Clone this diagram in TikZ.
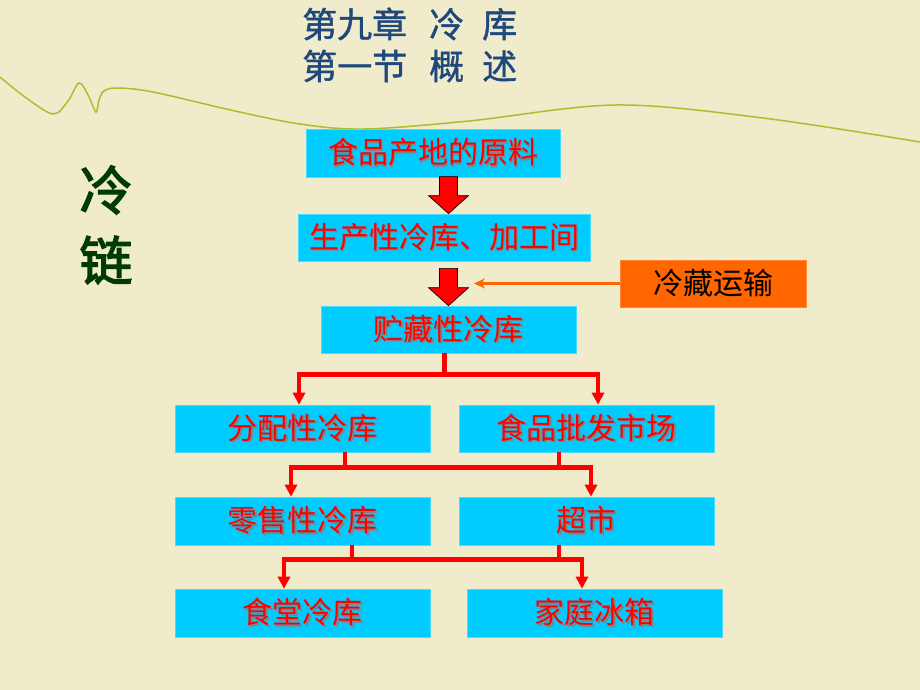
\documentclass[tikz,border=0pt]{standalone}
\usepackage{fontspec}
\newfontfamily\cjk{Noto Sans CJK SC}
\newfontfamily\cjkt[FakeBold=1.2]{Noto Sans CJK SC}
\newfontfamily\cjkb[FakeBold=2.5]{Noto Sans CJK SC}
\usetikzlibrary{arrows.meta,calc}
\definecolor{bg}{RGB}{240,235,203}
\definecolor{boxcyan}{RGB}{0,204,255}
\definecolor{orng}{RGB}{255,102,0}
\definecolor{titleblue}{RGB}{31,73,125}
\definecolor{dgreen}{RGB}{0,60,0}
\definecolor{wave}{RGB}{168,192,45}
\definecolor{shadowgray}{RGB}{130,130,130}
\newcommand{\shtext}[1]{\makebox[0pt]{\raisebox{-1.5pt}{\hspace{3pt}\textcolor{shadowgray}{#1}}}\makebox[0pt]{\textcolor{red}{#1}}}
\tikzset{
  cbox/.style={fill=boxcyan, draw=boxcyan!70!white, line width=0.6pt, inner sep=0pt, font=\cjk\fontsize{30}{30}\selectfont},
  obox/.style={fill=orng, draw=orng!80!white, line width=0.6pt, inner sep=0pt, minimum width=186pt, minimum height=47pt, font=\cjk\fontsize{30}{30}\selectfont, text=black},
  conn/.style={draw=red, line width=4.5pt},
  conna/.style={conn, -{Triangle[width=12pt,length=12pt]}},
  blockarr/.style={fill=red, draw=black, line width=0.6pt, line join=miter},
}
\begin{document}
\begin{tikzpicture}[x=1pt,y=-1pt]
\fill[bg] (0,0) rectangle (920,690);
\useasboundingbox (0,0) rectangle (920,690);
% wave
\draw[wave, line width=1.5pt] plot[smooth, tension=0.55] coordinates {(0,77) (25,97) (53,114) (68,101) (79,83) (88,95) (96,112) (99,100) (104,91) (117,88) (153,92) (235,111) (300,124) (364,129) (469,121) (616,105) (763,118) (920,142)};
% title
\node[anchor=west, inner sep=0pt, text=titleblue, font=\cjkt\fontsize{35}{35}\selectfont] (t1) at (302,24) {第九章\hspace{22pt}冷\hspace{18pt}库};
\node[anchor=west, inner sep=0pt, text=titleblue, font=\cjkt\fontsize{35}{35}\selectfont] (t2) at (302,66) {第一节\hspace{22pt}概\hspace{18pt}述};
% left label
\node[inner sep=0pt, text=dgreen, font=\cjkb\fontsize{53}{53}\selectfont] (l1) at (106,190) {冷};
\node[inner sep=0pt, text=dgreen, font=\cjkb\fontsize{53}{53}\selectfont] (l2) at (106,260) {链};
% boxes
\node[cbox, minimum width=254pt, minimum height=48pt] (b1) at (433,153) {\shtext{食品产地的原料}};
\node[cbox, minimum width=292pt, minimum height=47pt] (b2) at (444,237.5) {\shtext{生产性冷库、加工间}};
\node[cbox, minimum width=255pt, minimum height=47pt] (b3) at (448.5,329.5) {\shtext{贮藏性冷库}};
\node[cbox, minimum width=255pt, minimum height=47pt] (b4) at (302.5,428.5) {\shtext{分配性冷库}};
\node[cbox, minimum width=255pt, minimum height=47pt] (b5) at (586.5,428.5) {\shtext{食品批发市场}};
\node[cbox, minimum width=255pt, minimum height=48pt] (b6) at (302.5,521) {\shtext{零售性冷库}};
\node[cbox, minimum width=255pt, minimum height=48pt] (b7) at (586.5,521) {\shtext{超市}};
\node[cbox, minimum width=255pt, minimum height=48pt] (b8) at (302.5,613) {\shtext{食堂冷库}};
\node[cbox, minimum width=255pt, minimum height=48pt] (b9) at (594.5,613) {\shtext{家庭冰箱}};
\node[obox] (ot) at (713,283.5) {冷藏运输};
% block arrows
\coordinate (a1s) at ($(b1.south -| b3.center)+(0,-1)$);
\coordinate (a1e) at (b2.north -| b3.center);
\path[blockarr] ($(a1s)+(-9,0)$) -- ($(a1s)+(9,0)$) -- ($(a1e)+(9,-18)$) -- ($(a1e)+(20,-18)$) -- (a1e) -- ($(a1e)+(-20,-18)$) -- ($(a1e)+(-9,-18)$) -- cycle;
\coordinate (a2s) at ($(b2.south -| b3.center)+(0,7)$);
\coordinate (a2e) at (b3.north -| b3.center);
\path[blockarr] ($(a2s)+(-9,0)$) -- ($(a2s)+(9,0)$) -- ($(a2e)+(9,-18)$) -- ($(a2e)+(20,-18)$) -- (a2e) -- ($(a2e)+(-20,-18)$) -- ($(a2e)+(-9,-18)$) -- cycle;
% orange connector
\coordinate (oe) at (474,283.5);
\draw[orng, line width=3.5pt, -{Stealth[width=10pt,length=11pt]}] (ot.west) -- (oe);
% tree 1
\coordinate (j1) at ($(b3.south)+(-4,21)$);
\draw[conn] ($(b3.south)+(-4,0)$) -- (j1);
\draw[conna] (j1) -| ($(b4.north)+(-3.5,0)$);
\draw[conna] (j1) -| ($(b5.north)+(11.5,0)$);
% tree 2
\coordinate (j2) at ($(b4.south)+(42.5,15)$);
\coordinate (j2b) at ($(b5.south)+(-27.5,15)$);
\draw[conn] ($(b4.south)+(42.5,0)$) -- (j2);
\draw[conn] ($(b5.south)+(-27.5,0)$) -- (j2b);
\draw[conna] (j2) -| ($(b6.north)+(-11.5,0)$);
\draw[conna] (j2b) -| ($(b7.north)+(4.5,0)$);
\draw[conn] (j2) -- (j2b);
% tree 3
\coordinate (j3) at ($(b6.south)+(49.5,14)$);
\coordinate (j3b) at ($(b7.south)+(-27.5,14)$);
\draw[conn] ($(b6.south)+(49.5,0)$) -- (j3);
\draw[conn] ($(b7.south)+(-27.5,0)$) -- (j3b);
\draw[conna] (j3) -| ($(b8.north)+(-18.5,0)$);
\draw[conna] (j3b) -| ($(b9.north)+(-12.5,0)$);
\draw[conn] (j3) -- (j3b);
\end{tikzpicture}
\end{document}
